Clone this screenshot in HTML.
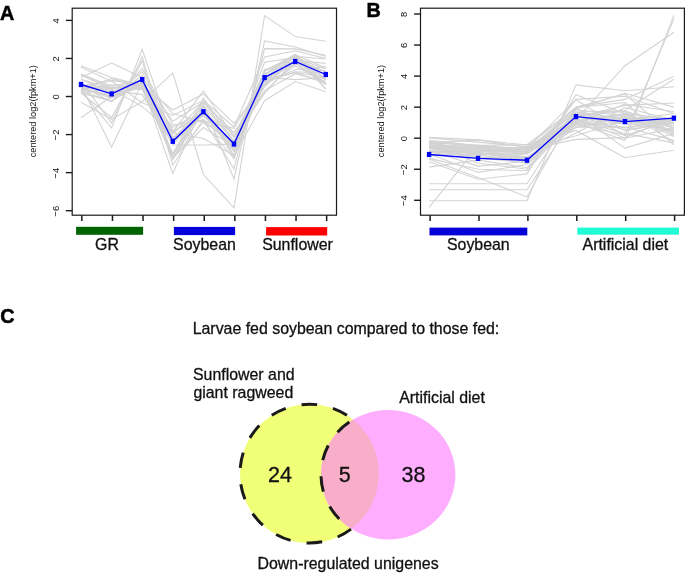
<!DOCTYPE html>
<html><head><meta charset="utf-8"><style>
html,body{margin:0;padding:0;background:#fff;}
body{width:685px;height:574px;overflow:hidden;}
svg{display:block;font-family:"Liberation Sans",sans-serif;will-change:transform;}
text{fill:#111;}
.b{stroke:#111;stroke-width:0.3px;}
.L{stroke:#000;stroke-width:0.5px;fill:#000;}
</style></head><body>
<svg width="685" height="574" viewBox="0 0 685 574">
<rect width="685" height="574" fill="#fff"/>
<g fill="none" stroke="#D3D3D3" stroke-width="1.1">
<polyline points="81.0,102.2 111.6,119.4 142.2,101.5 172.8,72.9 203.4,174.5 234.0,207.8 264.6,15.6 295.2,36.6 325.8,41.3"/>
<polyline points="81.0,117.8 111.6,96.5 142.2,87.0 172.8,145.0 203.4,145.0 234.0,144.1 264.6,73.7 295.2,60.4 325.8,71.8"/>
<polyline points="81.0,85.5 111.6,146.9 142.2,82.8 172.8,153.6 203.4,109.8 234.0,151.7 264.6,69.9 295.2,58.5 325.8,71.8"/>
<polyline points="81.0,90.8 111.6,127.9 142.2,49.3 172.8,140.3 203.4,115.5 234.0,146.0 264.6,77.5 295.2,56.6 325.8,75.6"/>
<polyline points="81.0,81.3 111.6,123.0 142.2,56.7 172.8,159.3 203.4,106.0 234.0,155.5 264.6,75.6 295.2,54.7 325.8,68.0"/>
<polyline points="81.0,77.5 111.6,63.0 142.2,77.5 172.8,121.3 203.4,102.2 234.0,132.7 264.6,90.8 295.2,73.7 325.8,81.3"/>
<polyline points="81.0,65.7 111.6,77.5 142.2,85.1 172.8,110.0 203.4,93.9 234.0,123.5 264.6,85.1 295.2,66.1 325.8,79.4"/>
<polyline points="81.0,88.9 111.6,85.1 142.2,85.1 172.8,173.4 203.4,104.1 234.0,178.9 264.6,41.0 295.2,47.0 325.8,56.6"/>
<polyline points="81.0,79.4 111.6,88.9 142.2,106.6 172.8,132.7 203.4,138.4 234.0,155.5 264.6,100.7 295.2,81.5 325.8,91.8"/>
<polyline points="81.0,92.7 111.6,117.8 142.2,60.9 172.8,165.0 203.4,119.4 234.0,168.8 264.6,48.6 295.2,48.9 325.8,55.2"/>
<polyline points="81.0,67.2 111.6,81.3 142.2,102.8 172.8,115.5 203.4,100.3 234.0,127.0 264.6,56.9 295.2,50.8 325.8,58.5"/>
<polyline points="81.0,91.4 111.6,100.9 142.2,83.0 172.8,134.2 203.4,102.0 234.0,142.8 264.6,81.9 295.2,69.7 325.8,66.6"/>
<polyline points="81.0,75.2 111.6,88.7 142.2,89.5 172.8,154.0 203.4,98.0 234.0,141.8 264.6,91.4 295.2,63.0 325.8,84.7"/>
<polyline points="81.0,90.2 111.6,94.6 142.2,86.1 172.8,132.3 203.4,112.3 234.0,150.8 264.6,74.3 295.2,54.5 325.8,89.3"/>
<polyline points="81.0,87.8 111.6,98.2 142.2,82.4 172.8,158.7 203.4,111.6 234.0,144.5 264.6,80.0 295.2,72.2 325.8,77.5"/>
<polyline points="81.0,93.3 111.6,101.1 142.2,79.8 172.8,156.1 203.4,101.7 234.0,135.9 264.6,93.5 295.2,59.6 325.8,84.2"/>
<polyline points="81.0,85.9 111.6,90.4 142.2,94.6 172.8,143.7 203.4,114.0 234.0,133.1 264.6,87.0 295.2,55.2 325.8,84.2"/>
<polyline points="81.0,88.3 111.6,97.3 142.2,71.6 172.8,132.1 203.4,91.0 234.0,136.7 264.6,70.8 295.2,54.3 325.8,79.4"/>
<polyline points="81.0,86.4 111.6,80.5 142.2,84.0 172.8,137.6 203.4,111.9 234.0,137.1 264.6,80.3 295.2,63.8 325.8,71.4"/>
<polyline points="81.0,85.3 111.6,97.5 142.2,75.4 172.8,158.7 203.4,122.0 234.0,158.7 264.6,69.7 295.2,65.7 325.8,83.0"/>
<polyline points="81.0,93.7 111.6,87.6 142.2,88.3 172.8,158.4 203.4,106.4 234.0,157.8 264.6,80.2 295.2,62.3 325.8,77.9"/>
<polyline points="81.0,86.4 111.6,80.5 142.2,84.7 172.8,158.2 203.4,127.5 234.0,146.4 264.6,80.3 295.2,59.8 325.8,78.1"/>
<polyline points="81.0,89.3 111.6,96.3 142.2,84.7 172.8,138.0 203.4,115.0 234.0,143.0 264.6,62.3 295.2,57.7 325.8,88.7"/>
<polyline points="81.0,74.4 111.6,88.1 142.2,87.6 172.8,127.3 203.4,111.6 234.0,151.1 264.6,82.6 295.2,71.8 325.8,73.3"/>
<polyline points="81.0,79.0 111.6,93.3 142.2,78.4 172.8,113.5 203.4,122.2 234.0,141.2 264.6,80.0 295.2,72.4 325.8,83.4"/>
<polyline points="81.0,86.2 111.6,87.6 142.2,84.9 172.8,139.5 203.4,105.7 234.0,140.7 264.6,70.6 295.2,57.9 325.8,69.1"/>
<polyline points="81.0,73.9 111.6,86.1 142.2,80.3 172.8,130.2 203.4,119.5 234.0,147.9 264.6,71.2 295.2,56.2 325.8,59.0"/>
<polyline points="81.0,86.1 111.6,101.8 142.2,68.4 172.8,124.7 203.4,120.9 234.0,128.3 264.6,77.3 295.2,79.6 325.8,77.7"/>
<polyline points="81.0,89.5 111.6,78.6 142.2,86.6 172.8,143.9 203.4,114.0 234.0,148.5 264.6,84.7 295.2,60.2 325.8,63.4"/>
</g>
<polyline points="81.0,84.5 111.6,93.9 142.2,79.6 172.8,141.3 203.4,111.7 234.0,144.0 264.6,77.6 295.2,61.5 325.8,74.5" fill="none" stroke="#0000FF" stroke-width="1.35"/>
<rect x="78.80" y="81.89" width="4.4" height="5.2" fill="#0000FF"/>
<rect x="109.40" y="91.29" width="4.4" height="5.2" fill="#0000FF"/>
<rect x="140.00" y="77.00" width="4.4" height="5.2" fill="#0000FF"/>
<rect x="170.60" y="138.70" width="4.4" height="5.2" fill="#0000FF"/>
<rect x="201.20" y="109.11" width="4.4" height="5.2" fill="#0000FF"/>
<rect x="231.80" y="141.40" width="4.4" height="5.2" fill="#0000FF"/>
<rect x="262.40" y="75.00" width="4.4" height="5.2" fill="#0000FF"/>
<rect x="293.00" y="58.90" width="4.4" height="5.2" fill="#0000FF"/>
<rect x="323.60" y="71.90" width="4.4" height="5.2" fill="#0000FF"/>
<rect x="72.2" y="8.2" width="264.30" height="207.00" fill="none" stroke="#1a1a1a" stroke-width="1.2"/>
<line x1="65.80" y1="210.70" x2="72.2" y2="210.70" stroke="#1a1a1a" stroke-width="1.4"/>
<text transform="translate(58.85,211.10) rotate(-90) scale(1,1.05)" text-anchor="middle" font-size="9.4">−6</text>
<line x1="65.80" y1="172.64" x2="72.2" y2="172.64" stroke="#1a1a1a" stroke-width="1.4"/>
<text transform="translate(58.85,173.04) rotate(-90) scale(1,1.05)" text-anchor="middle" font-size="9.4">−4</text>
<line x1="65.80" y1="134.58" x2="72.2" y2="134.58" stroke="#1a1a1a" stroke-width="1.4"/>
<text transform="translate(58.85,134.98) rotate(-90) scale(1,1.05)" text-anchor="middle" font-size="9.4">−2</text>
<line x1="65.80" y1="96.52" x2="72.2" y2="96.52" stroke="#1a1a1a" stroke-width="1.4"/>
<text transform="translate(58.85,96.92) rotate(-90) scale(1,1.05)" text-anchor="middle" font-size="9.4">0</text>
<line x1="65.80" y1="58.46" x2="72.2" y2="58.46" stroke="#1a1a1a" stroke-width="1.4"/>
<text transform="translate(58.85,58.86) rotate(-90) scale(1,1.05)" text-anchor="middle" font-size="9.4">2</text>
<line x1="65.80" y1="20.40" x2="72.2" y2="20.40" stroke="#1a1a1a" stroke-width="1.4"/>
<text transform="translate(58.85,20.80) rotate(-90) scale(1,1.05)" text-anchor="middle" font-size="9.4">4</text>
<line x1="81.85" y1="215.2" x2="81.85" y2="221.00" stroke="#1a1a1a" stroke-width="1.5"/>
<line x1="112.45" y1="215.2" x2="112.45" y2="221.00" stroke="#1a1a1a" stroke-width="1.5"/>
<line x1="143.05" y1="215.2" x2="143.05" y2="221.00" stroke="#1a1a1a" stroke-width="1.5"/>
<line x1="173.65" y1="215.2" x2="173.65" y2="221.00" stroke="#1a1a1a" stroke-width="1.5"/>
<line x1="204.25" y1="215.2" x2="204.25" y2="221.00" stroke="#1a1a1a" stroke-width="1.5"/>
<line x1="234.85" y1="215.2" x2="234.85" y2="221.00" stroke="#1a1a1a" stroke-width="1.5"/>
<line x1="265.45" y1="215.2" x2="265.45" y2="221.00" stroke="#1a1a1a" stroke-width="1.5"/>
<line x1="296.05" y1="215.2" x2="296.05" y2="221.00" stroke="#1a1a1a" stroke-width="1.5"/>
<line x1="326.65" y1="215.2" x2="326.65" y2="221.00" stroke="#1a1a1a" stroke-width="1.5"/>
<text transform="translate(35.9,111.2) rotate(-90) scale(1,1.05)" text-anchor="middle" font-size="9.2">centered log2(fpkm+1)</text>
<g fill="none" stroke="#D3D3D3" stroke-width="1.1">
<polyline points="429.1,146.0 478.1,152.2 527.0,161.5 576.0,122.7 624.9,140.5 673.9,15.4"/>
<polyline points="429.1,152.2 478.1,155.3 527.0,159.9 576.0,124.2 624.9,135.1 673.9,19.1"/>
<polyline points="429.1,147.5 478.1,153.7 527.0,158.4 576.0,119.6 624.9,65.7 673.9,32.3"/>
<polyline points="429.1,183.7 478.1,183.7 527.0,183.7 576.0,107.1 624.9,99.4 673.9,76.3"/>
<polyline points="429.1,189.7 478.1,189.7 527.0,189.7 576.0,114.9 624.9,110.3 673.9,79.2"/>
<polyline points="429.1,200.8 478.1,200.8 527.0,200.8 576.0,84.9 624.9,90.7 673.9,86.8"/>
<polyline points="429.1,207.3 478.1,146.0 527.0,163.0 576.0,99.4 624.9,96.3 673.9,113.4"/>
<polyline points="429.1,137.3 478.1,139.9 527.0,145.0 576.0,130.4 624.9,157.8 673.9,150.2"/>
<polyline points="429.1,159.2 478.1,177.6 527.0,196.9 576.0,108.7 624.9,93.2 673.9,107.1"/>
<polyline points="429.1,161.8 478.1,179.3 527.0,173.9 576.0,94.7 624.9,113.4 673.9,119.6"/>
<polyline points="429.1,167.1 478.1,160.1 527.0,167.7 576.0,113.4 624.9,148.1 673.9,133.5"/>
<polyline points="429.1,144.4 478.1,163.0 527.0,169.2 576.0,119.6 624.9,133.5 673.9,142.9"/>
<polyline points="429.1,153.7 478.1,172.4 527.0,164.6 576.0,114.9 624.9,119.6 673.9,130.4"/>
<polyline points="429.1,158.4 478.1,169.2 527.0,170.8 576.0,116.5 624.9,124.2 673.9,122.7"/>
<polyline points="429.1,150.6 478.1,166.1 527.0,161.5 576.0,113.4 624.9,118.0 673.9,125.8"/>
<polyline points="429.1,142.9 478.1,139.9 527.0,147.5 576.0,124.2 624.9,104.0 673.9,111.8"/>
<polyline points="429.1,142.1 478.1,145.5 527.0,152.3 576.0,122.4 624.9,127.6 673.9,119.9"/>
<polyline points="429.1,144.1 478.1,155.3 527.0,146.3 576.0,120.5 624.9,114.4 673.9,128.1"/>
<polyline points="429.1,146.1 478.1,148.4 527.0,153.1 576.0,121.0 624.9,114.4 673.9,136.6"/>
<polyline points="429.1,150.5 478.1,157.6 527.0,163.0 576.0,127.2 624.9,127.0 673.9,140.4"/>
<polyline points="429.1,151.4 478.1,152.8 527.0,157.8 576.0,126.6 624.9,117.7 673.9,118.2"/>
<polyline points="429.1,145.5 478.1,147.4 527.0,152.8 576.0,127.2 624.9,118.2 673.9,123.6"/>
<polyline points="429.1,145.5 478.1,146.9 527.0,149.1 576.0,135.7 624.9,120.5 673.9,120.3"/>
<polyline points="429.1,144.9 478.1,149.8 527.0,152.0 576.0,115.8 624.9,111.5 673.9,142.1"/>
<polyline points="429.1,141.9 478.1,152.3 527.0,147.4 576.0,121.9 624.9,113.4 673.9,131.7"/>
<polyline points="429.1,145.0 478.1,152.2 527.0,149.2 576.0,120.5 624.9,116.6 673.9,132.6"/>
<polyline points="429.1,140.2 478.1,145.5 527.0,144.6 576.0,107.8 624.9,102.5 673.9,144.9"/>
<polyline points="429.1,141.3 478.1,146.1 527.0,150.5 576.0,107.9 624.9,135.6 673.9,119.9"/>
<polyline points="429.1,145.7 478.1,145.0 527.0,149.7 576.0,117.2 624.9,105.4 673.9,103.0"/>
<polyline points="429.1,154.2 478.1,154.5 527.0,153.4 576.0,115.7 624.9,130.0 673.9,123.1"/>
<polyline points="429.1,146.6 478.1,151.7 527.0,149.8 576.0,116.8 624.9,123.0 673.9,129.2"/>
<polyline points="429.1,152.2 478.1,150.9 527.0,156.8 576.0,132.9 624.9,107.5 673.9,120.3"/>
<polyline points="429.1,137.9 478.1,142.1 527.0,146.7 576.0,107.3 624.9,94.0 673.9,136.2"/>
<polyline points="429.1,146.7 478.1,154.7 527.0,154.3 576.0,122.8 624.9,119.9 673.9,113.8"/>
<polyline points="429.1,143.3 478.1,150.6 527.0,149.8 576.0,139.4 624.9,137.6 673.9,117.2"/>
<polyline points="429.1,146.6 478.1,150.2 527.0,149.2 576.0,112.0 624.9,110.9 673.9,127.8"/>
<polyline points="429.1,150.6 478.1,153.7 527.0,157.3 576.0,124.7 624.9,122.8 673.9,123.6"/>
<polyline points="429.1,152.6 478.1,150.9 527.0,151.6 576.0,109.5 624.9,115.7 673.9,134.0"/>
<polyline points="429.1,143.0 478.1,150.0 527.0,148.3 576.0,99.7 624.9,130.7 673.9,122.1"/>
<polyline points="429.1,142.7 478.1,145.8 527.0,148.4 576.0,118.0 624.9,138.2 673.9,128.4"/>
<polyline points="429.1,148.4 478.1,153.9 527.0,152.0 576.0,112.0 624.9,118.5 673.9,122.8"/>
<polyline points="429.1,146.9 478.1,149.5 527.0,152.0 576.0,116.0 624.9,121.7 673.9,119.7"/>
<polyline points="429.1,148.4 478.1,157.1 527.0,158.7 576.0,121.4 624.9,128.0 673.9,123.1"/>
</g>
<polyline points="429.1,154.5 478.1,158.4 527.0,160.2 576.0,116.6 624.9,121.6 673.9,118.2" fill="none" stroke="#0000FF" stroke-width="1.35"/>
<rect x="426.90" y="151.90" width="4.4" height="5.2" fill="#0000FF"/>
<rect x="475.86" y="155.78" width="4.4" height="5.2" fill="#0000FF"/>
<rect x="524.82" y="157.65" width="4.4" height="5.2" fill="#0000FF"/>
<rect x="573.78" y="114.02" width="4.4" height="5.2" fill="#0000FF"/>
<rect x="622.74" y="118.99" width="4.4" height="5.2" fill="#0000FF"/>
<rect x="671.70" y="115.57" width="4.4" height="5.2" fill="#0000FF"/>
<rect x="420.5" y="8.2" width="263.90" height="207.00" fill="none" stroke="#1a1a1a" stroke-width="1.2"/>
<line x1="414.10" y1="200.30" x2="420.5" y2="200.30" stroke="#1a1a1a" stroke-width="1.4"/>
<text transform="translate(406.95,200.70) rotate(-90) scale(1,1.05)" text-anchor="middle" font-size="9.4">−4</text>
<line x1="414.10" y1="169.25" x2="420.5" y2="169.25" stroke="#1a1a1a" stroke-width="1.4"/>
<text transform="translate(406.95,169.65) rotate(-90) scale(1,1.05)" text-anchor="middle" font-size="9.4">−2</text>
<line x1="414.10" y1="138.20" x2="420.5" y2="138.20" stroke="#1a1a1a" stroke-width="1.4"/>
<text transform="translate(406.95,138.60) rotate(-90) scale(1,1.05)" text-anchor="middle" font-size="9.4">0</text>
<line x1="414.10" y1="107.15" x2="420.5" y2="107.15" stroke="#1a1a1a" stroke-width="1.4"/>
<text transform="translate(406.95,107.55) rotate(-90) scale(1,1.05)" text-anchor="middle" font-size="9.4">2</text>
<line x1="414.10" y1="76.10" x2="420.5" y2="76.10" stroke="#1a1a1a" stroke-width="1.4"/>
<text transform="translate(406.95,76.50) rotate(-90) scale(1,1.05)" text-anchor="middle" font-size="9.4">4</text>
<line x1="414.10" y1="45.05" x2="420.5" y2="45.05" stroke="#1a1a1a" stroke-width="1.4"/>
<text transform="translate(406.95,45.45) rotate(-90) scale(1,1.05)" text-anchor="middle" font-size="9.4">6</text>
<line x1="414.10" y1="14.00" x2="420.5" y2="14.00" stroke="#1a1a1a" stroke-width="1.4"/>
<text transform="translate(406.95,14.40) rotate(-90) scale(1,1.05)" text-anchor="middle" font-size="9.4">8</text>
<line x1="430.10" y1="215.2" x2="430.10" y2="221.00" stroke="#1a1a1a" stroke-width="1.5"/>
<line x1="479.00" y1="215.2" x2="479.00" y2="221.00" stroke="#1a1a1a" stroke-width="1.5"/>
<line x1="527.90" y1="215.2" x2="527.90" y2="221.00" stroke="#1a1a1a" stroke-width="1.5"/>
<line x1="576.80" y1="215.2" x2="576.80" y2="221.00" stroke="#1a1a1a" stroke-width="1.5"/>
<line x1="625.70" y1="215.2" x2="625.70" y2="221.00" stroke="#1a1a1a" stroke-width="1.5"/>
<line x1="674.60" y1="215.2" x2="674.60" y2="221.00" stroke="#1a1a1a" stroke-width="1.5"/>
<text transform="translate(384.0,111.05) rotate(-90) scale(1,1.05)" text-anchor="middle" font-size="9.2">centered log2(fpkm+1)</text>
<rect x="76.1" y="226.8" width="67.0" height="8" fill="#006400"/>
<rect x="173.9" y="226.9" width="61.2" height="8.2" fill="#0600DC"/>
<rect x="266.1" y="227.1" width="61.1" height="8.4" fill="#FF0000"/>
<rect x="429.5" y="227.6" width="97.8" height="7.8" fill="#0600D8"/>
<rect x="577.3" y="227.6" width="101.7" height="7.1" fill="#22FCD6"/>
<text x="107.0" y="250.0" text-anchor="middle" font-size="15.9" class="b">GR</text>
<text x="204.45" y="250.0" text-anchor="middle" font-size="15.9" class="b">Soybean</text>
<text x="297.5" y="250.0" text-anchor="middle" font-size="15.9" class="b">Sunflower</text>
<text x="478.35" y="250.0" text-anchor="middle" font-size="15.9" class="b">Soybean</text>
<text x="625.4" y="250.0" text-anchor="middle" font-size="15.9" class="b">Artificial diet</text>
<text x="-0.1" y="20.3" font-size="19.8" font-weight="bold" class="L">A</text>
<text x="366.6" y="16.6" font-size="19.8" font-weight="bold" class="L">B</text>
<text x="0.2" y="322.9" font-size="19.8" font-weight="bold" class="L">C</text>
<circle cx="309.4" cy="473.6" r="69.4" fill="#F1FF78"/>
<ellipse cx="388.2" cy="474.7" rx="67.2" ry="64.7" fill="#FFADFF"/>
<clipPath id="yc"><circle cx="309.4" cy="473.6" r="69.4"/></clipPath>
<ellipse cx="388.2" cy="474.7" rx="67.2" ry="64.7" fill="#F8AEC8" clip-path="url(#yc)"/>
<path d="M352.99,419.59 A69.4,69.4 0 1 0 351.41,528.84 A67.2,64.7 0 0 1 352.99,419.59 Z" fill="none" stroke="#1a1a1a" stroke-width="3" stroke-dasharray="15.6 16.2" stroke-dashoffset="24.28"/>
<text x="280.05" y="481.6" text-anchor="middle" font-size="21.5" class="b">24</text>
<text x="344.85" y="481.6" text-anchor="middle" font-size="21.5" class="b">5</text>
<text x="413.4" y="481.6" text-anchor="middle" font-size="21.5" class="b">38</text>
<text x="192.7" y="333.9" font-size="15.9" class="b">Larvae fed soybean compared to those fed:</text>
<text x="193.0" y="379.7" font-size="15.9" class="b">Sunflower and</text>
<text x="193.4" y="398.2" font-size="15.9" class="b">giant ragweed</text>
<text x="399.2" y="402.5" font-size="15.9" class="b">Artificial diet</text>
<text x="257.5" y="569.2" font-size="15.9" class="b">Down-regulated unigenes</text>
</svg>
</body></html>
